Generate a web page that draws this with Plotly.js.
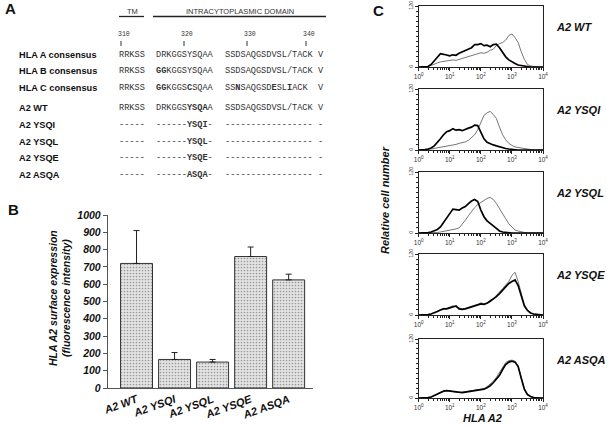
<!DOCTYPE html>
<html>
<head>
<meta charset="utf-8">
<script src="https://cdn.plot.ly/plotly-3.0.1.min.js"></script>
<style>
  html, body { margin: 0; padding: 0; background: #fff; }
  #chart { width: 607px; height: 426px; }
</style>
</head>
<body>
<div id="chart"></div>
<script>
// Panel A - sequence alignment
var rowLabels = ['HLA A consensus', 'HLA B consensus', 'HLA C consensus', 'A2 WT', 'A2 YSQI', 'A2 YSQL', 'A2 YSQE', 'A2 ASQA'];
var seqTM = ['RRKSS', 'RRKSS', 'RRKSS', 'RRKSS', '-----', '-----', '-----', '-----'];
var seqMid = ['DRKGGSYSQAA', '<b>GG</b>KGGSYSQAA', '<b>GG</b>KGGS<b>C</b>SQAA', 'DRKGGS<b>YSQA</b>A',
  '------<b>YSQI</b>-', '------<b>YSQL</b>-', '------<b>YSQE</b>-', '------<b>ASQA</b>-'];
var seqTail = ['SSDSAQGSDVSL/TACK', 'SSDSAQGSDVSL/TACK', 'SS<b>N</b>SAQGSD<b>E</b>SL<b>I</b>ACK', 'SSDSAQGSDVSL/TACK',
  '-----------------', '-----------------', '-----------------', '-----------------'];
var seqEnd = ['V', 'V', 'V', 'V', '-', '-', '-', '-'];
var positions = ['310', '320', '330', '340'];

// Panel B - surface expression
var mutants = ['A2 WT', 'A2 YSQI', 'A2 YSQL', 'A2 YSQE', 'A2 ASQA'];
var expression = [720, 165, 150, 760, 625];
var expressionErr = [190, 40, 15, 55, 33];

// Panel C - FACS histograms (log10 of fluorescence channel)
var binExp = [0, 0.1, 0.2, 0.3, 0.4, 0.5, 0.6, 0.7, 0.8, 0.9, 1.0, 1.1, 1.2, 1.3, 1.4, 1.5, 1.6, 1.7, 1.8, 1.9,
  2.0, 2.1, 2.2, 2.3, 2.4, 2.5, 2.6, 2.7, 2.8, 2.9, 3.0, 3.1, 3.2, 3.3, 3.4, 3.5, 3.6, 3.7, 3.8, 3.9, 4.0];
var wtThick = [0,0,0,1,5,12,20,26,25,23, 22,24,23,27,30,32,36,38,44,44, 46,42,43,40,44,45,38,28,20,14, 10,7,4,3,1,0,0,0,0,0,0];
var wtThin = [0,0,0,1,3,6,8,10,11,12, 12,14,13,15,16,18,20,22,24,26, 28,27,29,33,35,42,46,48,53,62, 65,58,48,30,15,5,2,1,0,0,0];
var ysqiThick = [0,0,1,2,4,8,14,22,30,36, 38,42,39,40,38,41,43,45,49,48, 35,22,15,12,10,8,6,4,3,2, 1,1,0,0,0,0,0,0,0,0,0];
var ysqiThin = [0,0,0,1,2,3,4,5,7,8, 9,10,11,13,14,16,19,24,30,40, 55,68,73,76,70,62,45,30,20,13, 9,6,5,4,2,1,0,0,0,0,0];
var ysqlThick = [0,0,0,1,2,4,7,12,21,30, 40,47,46,45,49,52,58,63,66,62, 45,32,24,18,14,9,4,2,1,0, 0,0,0,0,0,0,0,0,0,0,0];
var ysqlThin = [0,0,0,0,0,1,1,2,3,4, 5,6,8,10,17,25,34,43,50,56, 60,63,68,70,66,58,47,37,28,18, 11,6,4,2,1,0,0,0,0,0,0];
var ysqeThick = [0,0,0,1,2,4,7,10,12,12, 14,17,18,12,11,12,14,16,17,20, 22,21,23,27,31,36,42,49,56,62, 66,69,58,36,18,9,4,2,1,0,0];
var ysqeThin = [0,0,0,1,2,5,7,11,13,13, 15,18,16,14,12,13,15,16,18,21, 24,22,24,29,32,38,44,52,59,66, 78,84,66,40,20,10,4,2,1,0,0];
var asqaThick = [0,0,0,1,2,5,9,12,14,15, 14,13,12,11,11,12,13,14,15,16, 17,18,21,25,31,38,46,58,68,73, 75,73,64,40,18,7,3,1,0,0,0];
var asqaThin = [0,0,0,1,2,5,9,12,14,15, 15,13,12,11,12,13,14,15,16,17, 18,19,23,28,34,42,52,64,72,76, 77,75,66,42,19,7,3,1,0,0,0];
var histLabels = ['A2 WT', 'A2 YSQI', 'A2 YSQL', 'A2 YSQE', 'A2 ASQA'];

var W = 607, H = 426;
function px(x) { return x / W; }
function py(y) { return 1 - y / H; }

var SANS = 'Liberation Sans, Arial, sans-serif';
var MONO = 'Liberation Mono, Courier New, monospace';

var annotations = [];
var shapes = [];

function addText(text, x, y, opts) {
  opts = opts || {};
  annotations.push({
    xref: 'paper', yref: 'paper', x: px(x), y: py(y),
    text: text, showarrow: false,
    xanchor: opts.xanchor || 'left', yanchor: 'middle',
    textangle: opts.angle || 0,
    font: { family: opts.family || SANS, size: opts.size || 9, color: opts.color || '#111' }
  });
}

// panel letters
addText('<b>A</b>', 3, 9, { size: 15 });
addText('<b>B</b>', 6, 209, { size: 15 });
addText('<b>C</b>', 371, 10, { size: 15 });

// panel A header
addText('TM', 132, 11, { xanchor: 'center', size: 7.5, color: '#333' });
addText('INTRACYTOPLASMIC DOMAIN', 240, 11, { xanchor: 'center', size: 7.5, color: '#333' });
shapes.push({ type: 'line', xref: 'paper', yref: 'paper', x0: px(119), x1: px(144), y0: py(16.5), y1: py(16.5), line: { color: '#222', width: 1.3 } });
shapes.push({ type: 'line', xref: 'paper', yref: 'paper', x0: px(153), x1: px(326), y0: py(16.5), y1: py(16.5), line: { color: '#222', width: 1.3 } });
var posX = [121, 184, 247, 306];
positions.forEach(function (p, i) {
  addText(p, posX[i] + 3, 34, { xanchor: 'center', size: 6.5, family: MONO, color: '#333' });
  shapes.push({ type: 'line', xref: 'paper', yref: 'paper', x0: px(posX[i]), x1: px(posX[i]), y0: py(41), y1: py(46), line: { color: '#333', width: 1 } });
});

var rowY = [55, 71, 88, 108, 125, 142, 158, 175];
rowLabels.forEach(function (lab, i) {
  addText('<b>' + lab + '</b>', 17, rowY[i], { size: 9.2 });
  addText(seqTM[i], 117, rowY[i], { family: MONO, size: 8.6, color: '#333' });
  addText(seqMid[i], 154, rowY[i], { family: MONO, size: 8.6, color: '#333' });
  addText(seqTail[i], 223, rowY[i], { family: MONO, size: 8.6, color: '#333' });
  addText(seqEnd[i], 316, rowY[i], { family: MONO, size: 8.6, color: '#333' });
});

// panel B y title
addText('<b><i>HLA A2 surface expression</i></b>', 53, 298, { xanchor: 'center', angle: -90, size: 10.5 });
addText('<b><i>(fluorescence intensity)</i></b>', 66, 298, { xanchor: 'center', angle: -90, size: 10.5 });

// panel C labels
var histTop = [6, 89, 172, 254, 339];
var histBot = [67, 150, 233, 315, 398];
histLabels.forEach(function (lab, i) {
  addText('<b><i>' + lab + '</i></b>', 554, histTop[i] + 21, { size: 11 });
});
addText('<b><i>Relative cell number</i></b>', 385, 200, { xanchor: 'center', angle: -90, size: 11 });
addText('<b><i>HLA A2</i></b>', 482, 418, { xanchor: 'center', size: 11 });

var data = [{
  type: 'bar',
  x: mutants,
  y: expression,
  xaxis: 'x', yaxis: 'y',
  marker: {
    color: '#e2e2e2',
    line: { color: '#333', width: 1 },
    pattern: { shape: '.', size: 3, solidity: 0.25, fgcolor: '#9a9a9a', bgcolor: '#e4e4e4' }
  },
  error_y: {
    type: 'data', symmetric: false,
    array: expressionErr,
    arrayminus: expressionErr.map(function () { return 0; }),
    color: '#222', thickness: 1, width: 3
  },
  showlegend: false
}];

var histSeries = [[wtThick, wtThin], [ysqiThick, ysqiThin], [ysqlThick, ysqlThin], [ysqeThick, ysqeThin], [asqaThick, asqaThin]];
var binX = binExp.map(function (e) { return Math.pow(10, e); });

var minorX = [];
[1, 10, 100, 1000].forEach(function (d) {
  for (var k = 2; k <= 9; k++) minorX.push(d * k);
});

var layout = {
  width: W, height: H, autosize: false,
  margin: { l: 0, r: 0, t: 0, b: 0 },
  paper_bgcolor: '#fff', plot_bgcolor: 'rgba(0,0,0,0)',
  font: { family: SANS, color: '#111' },
  bargap: 0.16,
  showlegend: false,
  xaxis: {
    domain: [px(108), px(313)],
    anchor: 'y',
    range: [-0.75, 4.64],
    showline: true, linecolor: '#555', linewidth: 1.2,
    ticks: '', tickangle: -20,
    tickfont: { family: SANS, size: 11, weight: 'bold', style: 'italic', color: '#111' },
    showgrid: false, zeroline: false
  },
  yaxis: {
    domain: [py(388), py(215)],
    anchor: 'x',
    range: [0, 1000],
    tickvals: [0, 100, 200, 300, 400, 500, 600, 700, 800, 900, 1000],
    showline: true, linecolor: '#555', linewidth: 1.2,
    ticks: 'outside', ticklen: 4, tickcolor: '#555',
    tickfont: { family: SANS, size: 10.5, weight: 'bold', style: 'italic', color: '#111' },
    showgrid: false, zeroline: false
  },
  annotations: annotations,
  shapes: shapes
};

histSeries.forEach(function (pair, i) {
  var n = i + 2;
  var xa = 'x' + n, ya = 'y' + n;
  data.push({
    type: 'scatter', mode: 'lines', x: binX, y: pair[1], xaxis: xa, yaxis: ya,
    line: { color: '#666', width: 0.9 }, showlegend: false
  });
  data.push({
    type: 'scatter', mode: 'lines', x: binX, y: pair[0], xaxis: xa, yaxis: ya,
    line: { color: '#000', width: 1.7 }, showlegend: false
  });
  layout['xaxis' + n] = {
    domain: [px(418.7), px(543)],
    anchor: ya,
    type: 'log', range: [0, 4],
    tickvals: [1, 10, 100, 1000, 10000],
    ticktext: ['10<sup>0</sup>', '10<sup>1</sup>', '10<sup>2</sup>', '10<sup>3</sup>', '10<sup>4</sup>'],
    ticks: 'outside', ticklen: 3, tickcolor: '#222',
    minor: { tickvals: minorX, ticks: 'outside', ticklen: 1.5, tickcolor: '#222', showgrid: false },
    tickfont: { family: SANS, size: 6.5, color: '#333' },
    showline: true, mirror: true, linecolor: '#222', linewidth: 1,
    showgrid: false, zeroline: false
  };
  layout['yaxis' + n] = {
    domain: [py(histBot[i]), py(histTop[i])],
    anchor: xa,
    range: [0, 120],
    tickvals: [0, 120], ticktext: ['0', '120'], tickangle: -90,
    ticks: 'outside', ticklen: 3, tickcolor: '#222',
    minor: { dtick: 10, ticks: 'outside', ticklen: 1.5, tickcolor: '#222', showgrid: false },
    tickfont: { family: SANS, size: 5.5, color: '#333' },
    showline: true, mirror: true, linecolor: '#222', linewidth: 1,
    showgrid: false, zeroline: false
  };
});

Plotly.newPlot('chart', data, layout, { displayModeBar: false, staticPlot: true });
</script>
</body>
</html>
